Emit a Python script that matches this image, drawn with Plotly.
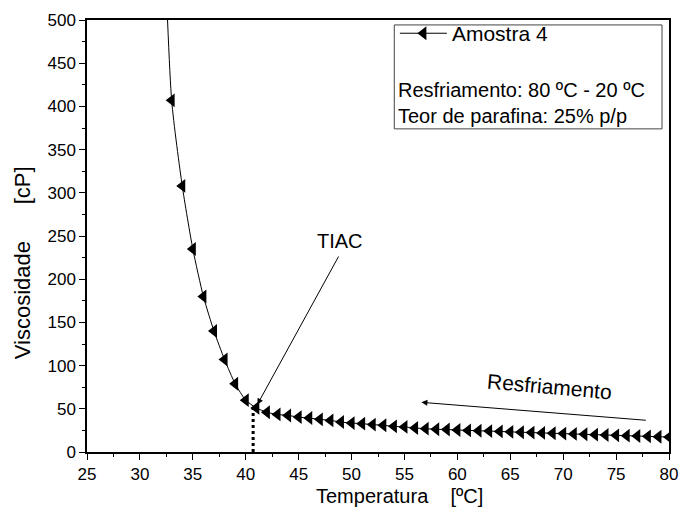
import plotly.graph_objects as go

# Data
temperatura = [32, 33, 34, 35, 36, 37, 38, 39, 40, 41, 42, 43, 44, 45, 46, 47, 48, 49, 50,
               51, 52, 53, 54, 55, 56, 57, 58, 59, 60, 61, 62, 63, 64, 65, 66, 67, 68, 69, 70,
               71, 72, 73, 74, 75, 76, 77, 78, 79, 80]
viscosidade = [700, 407, 308, 235, 180, 140, 107, 79, 60, 51, 46, 43.5, 42.3, 40.4, 39.3, 37.8, 36.6, 34.7, 33.5,
               32.8, 31.7, 30.9, 29.7, 29.0, 27.8, 27.0, 26.3, 26.0, 25.5, 25.0, 24.6, 24.2, 23.8, 23.3, 22.9, 22.5, 22.1, 21.7, 21.3,
               20.9, 20.5, 20.1, 19.7, 19.3, 18.9, 18.5, 18.1, 17.7, 17.3]

x_ticks = [25, 30, 35, 40, 45, 50, 55, 60, 65, 70, 75, 80]
y_ticks = [0, 50, 100, 150, 200, 250, 300, 350, 400, 450, 500]

serie_nome = "Amostra 4"
info_linhas = ["Resfriamento: 80 ºC - 20 ºC", "Teor de parafina: 25% p/p"]

FONT = "Liberation Sans, Arial, sans-serif"
NB = "\u00a0"

fig = go.Figure()
fig.add_trace(go.Scatter(
    x=temperatura, y=viscosidade, mode="lines+markers", name=serie_nome,
    line=dict(color="black", width=1, shape="spline", smoothing=0.6),
    marker=dict(symbol="triangle-left", size=12, color="black"),
    cliponaxis=True,
))

# dotted TIAC line
fig.add_trace(go.Scatter(
    x=[40.7, 40.7], y=[0, 50], mode="lines", showlegend=False,
    line=dict(color="black", width=3, dash="dot"),
))

axis_common = dict(
    showline=True, linecolor="black", linewidth=1.5, mirror=True,
    ticks="outside", ticklen=6, tickwidth=1.2, tickcolor="black",
    showgrid=False, zeroline=False,
    tickfont=dict(family=FONT, size=17, color="black"),
)

fig.update_layout(
    width=689, height=522,
    margin=dict(l=87, r=11, t=15, b=70),
    paper_bgcolor="white", plot_bgcolor="white",
    font=dict(family=FONT, color="black"),
    xaxis=dict(range=[25, 80], tickvals=x_ticks,
               minor=dict(ticks="outside", ticklen=3, tickwidth=1, tickcolor="black", dtick=2.5, tick0=25),
               **axis_common),
    yaxis=dict(range=[0, 500], tickvals=y_ticks,
               minor=dict(ticks="outside", ticklen=3, tickwidth=1, tickcolor="black", dtick=25, tick0=0),
               **axis_common),
    showlegend=True,
    legend=dict(x=0.529, y=1.016, xanchor="left", yanchor="top",
                bgcolor="rgba(0,0,0,0)", borderwidth=0,
                font=dict(family=FONT, size=21, color="black"),
                itemwidth=47, tracegroupgap=0),
)

# axis titles (positioned as in the reference)
fig.add_annotation(xref="paper", yref="paper", x=(404 - 87) / 591, y=-(497 - 452) / 437,
                   xanchor="center", yanchor="middle", showarrow=False,
                   text="Temperatura" + NB * 4 + "[ºC]", font=dict(family=FONT, size=20, color="black"))
fig.add_annotation(xref="paper", yref="paper", x=(21 - 87) / 591, y=(452 - 261) / 437,
                   xanchor="center", yanchor="middle", showarrow=False, textangle=-90,
                   text="Viscosidade" + NB * 6 + "[cP]", font=dict(family=FONT, size=22, color="black"))

# legend box
fig.add_shape(type="rect", xref="paper", yref="paper", x0=0.528, x1=0.988, y0=0.748, y1=0.9886,
              line=dict(color="#444", width=1), fillcolor="rgba(0,0,0,0)")

fig.add_annotation(xref="paper", yref="paper", x=0.531, y=(452 - 98.5) / 437, xanchor="left", yanchor="middle",
                   align="left", text="<br>".join(info_linhas), showarrow=False,
                   font=dict(family=FONT, size=20, color="black"))

# TIAC arrow
fig.add_annotation(x=41.1, y=55, ax=48.85, ay=228, xref="x", yref="y", axref="x", ayref="y",
                   text="", showarrow=True, arrowhead=2, arrowsize=1.2, arrowwidth=1, arrowcolor="black")
fig.add_annotation(x=48.95, y=244, xref="x", yref="y", text="TIAC", showarrow=False, yanchor="middle",
                   font=dict(family=FONT, size=20, color="black"))

# Resfriamento arrow
fig.add_annotation(x=56.6, y=57.5, ax=77.95, ay=36.6, xref="x", yref="y", axref="x", ayref="y",
                   text="", showarrow=True, arrowhead=2, arrowsize=1.2, arrowwidth=1, arrowcolor="black")
fig.add_annotation(x=68.7, y=75.5, xref="x", yref="y", text="Resfriamento", showarrow=False, textangle=5,
                   font=dict(family=FONT, size=21, color="black"))

fig.write_html("out.html")
